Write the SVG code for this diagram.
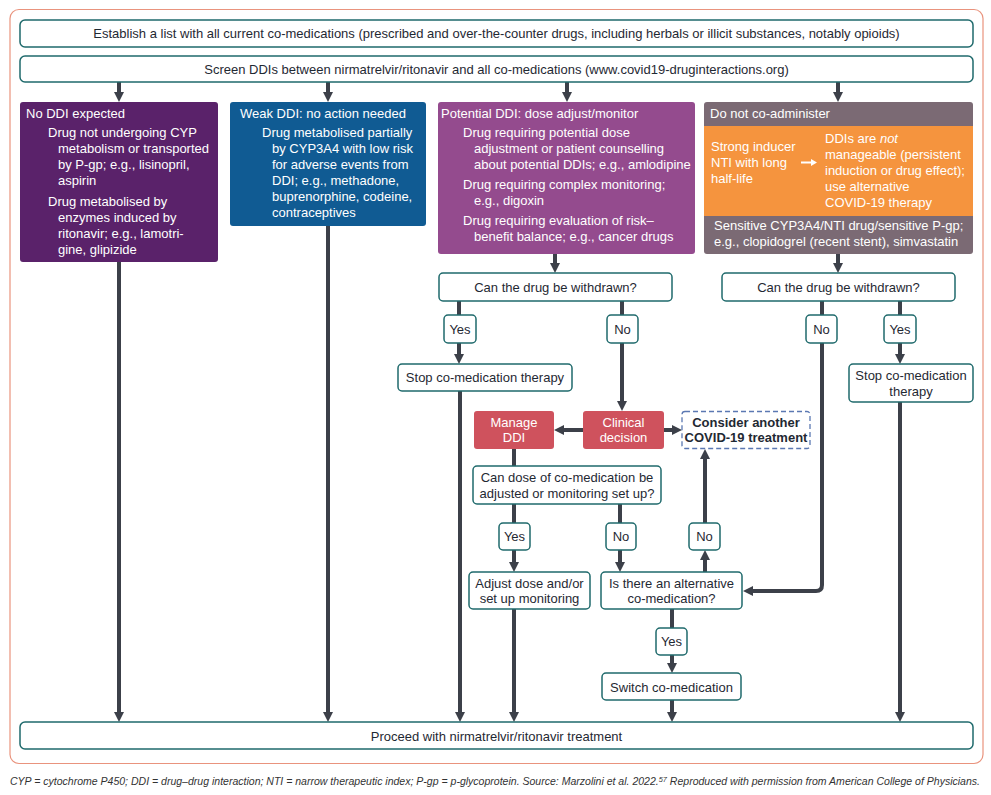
<svg xmlns="http://www.w3.org/2000/svg" width="991" height="795" viewBox="0 0 991 795">
<defs>
<marker id="ah" viewBox="0 0 10 10" refX="1" refY="5" markerWidth="10" markerHeight="10" markerUnits="userSpaceOnUse" orient="auto">
<path d="M0,0 L10,5 L0,10 z" fill="#3c4049"/>
</marker>
<style>
text{font-family:"Liberation Sans",Arial,sans-serif;font-size:13px;fill:#1f2933}
.c{text-anchor:middle}
.w{fill:#ffffff}
.box{fill:#ffffff;stroke:#1f6a6c;stroke-width:1.5}
.lab{fill:#ffffff;stroke:#1f6a6c;stroke-width:1.5}
.red{fill:#cf525d}
.ln{fill:none;stroke:#3c4049;stroke-width:4}
.arr{fill:none;stroke:#3c4049;stroke-width:4;marker-end:url(#ah)}
.foot{font-size:10px;font-style:italic;fill:#333}
</style>
</defs>
<rect width="991" height="795" fill="#ffffff"/>
<rect x="10" y="9.5" width="973" height="754" rx="9" fill="none" stroke="#e9937d" stroke-width="1.2"/>

<g id="connectors">
<path class="arr" d="M119,82 V93"/>
<path class="arr" d="M328,82 V93"/>
<path class="arr" d="M567,82 V93"/>
<path class="arr" d="M838,82 V93"/>
<path class="arr" d="M119,262 V713"/>
<path class="arr" d="M328,226 V713"/>
<path class="arr" d="M555,254 V264"/>
<path class="ln" d="M459,301 V315"/>
<path class="arr" d="M459,343 V355"/>
<path class="ln" d="M622,301 V315"/>
<path class="arr" d="M622,343 V402"/>
<path class="arr" d="M460,391 V713"/>
<path class="arr" d="M583,430 H563"/>
<path class="arr" d="M664,430 H673"/>
<path class="ln" d="M514,449 V466"/>
<path class="ln" d="M514,504 V523"/>
<path class="arr" d="M514,550 V563"/>
<path class="ln" d="M620,504 V523"/>
<path class="arr" d="M620,550 V563"/>
<path class="arr" d="M705,572 V559"/>
<path class="arr" d="M705,523 V458"/>
<path class="arr" d="M514,609 V713"/>
<path class="ln" d="M672,609 V628"/>
<path class="arr" d="M672,655 V664"/>
<path class="arr" d="M672,700 V713"/>
<path class="arr" d="M838,254 V264"/>
<path class="ln" d="M822,301 V315"/>
<path class="arr" d="M822,343 V585 Q822,591 816,591 H752"/>
<path class="ln" d="M900,301 V315"/>
<path class="arr" d="M900,343 V355"/>
<path class="arr" d="M900,402 V713"/>
</g>

<g id="n-establish">
<rect class="box" x="20" y="20" width="953" height="27" rx="5"/>
<text class="c" x="496.5" y="38">Establish a list with all current co-medications (prescribed and over-the-counter drugs, including herbals or illicit substances, notably opioids)</text>
</g>
<g id="n-screen">
<rect class="box" x="20" y="56" width="953" height="26" rx="5"/>
<text class="c" x="496.5" y="73.5">Screen DDIs between nirmatrelvir/ritonavir and all co-medications (www.covid19-druginteractions.org)</text>
</g>

<g id="n-noddi">
<rect x="20" y="102" width="198" height="160" rx="3" fill="#5a226a"/>
<text class="w" x="26" y="118">No DDI expected</text>
<text class="w" x="48" y="137">Drug not undergoing CYP</text>
<text class="w" x="58" y="153">metabolism or transported</text>
<text class="w" x="58" y="169">by P-gp; e.g., lisinopril,</text>
<text class="w" x="58" y="185">aspirin</text>
<text class="w" x="48" y="206">Drug metabolised by</text>
<text class="w" x="58" y="222">enzymes induced by</text>
<text class="w" x="58" y="238">ritonavir; e.g., lamotri-</text>
<text class="w" x="58" y="254">gine, glipizide</text>
</g>

<g id="n-weak">
<rect x="230" y="102" width="196" height="124" rx="3" fill="#105b93"/>
<text class="w" x="240" y="118">Weak DDI: no action needed</text>
<text class="w" x="262" y="137">Drug metabolised partially</text>
<text class="w" x="272" y="153">by CYP3A4 with low risk</text>
<text class="w" x="272" y="169">for adverse events from</text>
<text class="w" x="272" y="185">DDI; e.g., methadone,</text>
<text class="w" x="272" y="201">buprenorphine, codeine,</text>
<text class="w" x="272" y="217">contraceptives</text>
</g>

<g id="n-potential">
<rect x="438" y="102" width="257" height="152" rx="3" fill="#944b8e"/>
<text class="w" x="441" y="118">Potential DDI: dose adjust/monitor</text>
<text class="w" x="463" y="137">Drug requiring potential dose</text>
<text class="w" x="474" y="153">adjustment or patient counselling</text>
<text class="w" x="474" y="169">about potential DDIs; e.g., amlodipine</text>
<text class="w" x="463" y="189">Drug requiring complex monitoring;</text>
<text class="w" x="474" y="205">e.g., digoxin</text>
<text class="w" x="463" y="225">Drug requiring evaluation of risk–</text>
<text class="w" x="474" y="241">benefit balance; e.g., cancer drugs</text>
</g>

<g id="n-donot">
<rect x="704" y="102" width="269" height="152" rx="3" fill="#7b6a74"/>
<rect x="704" y="126" width="269" height="90" fill="#f5943e"/>
<text class="w" x="710" y="118">Do not co-administer</text>
<text class="w" x="711" y="151">Strong inducer</text>
<text class="w" x="711" y="167">NTI with long</text>
<text class="w" x="711" y="183">half-life</text>
<path d="M801,162.5 H812" stroke="#ffffff" stroke-width="2" fill="none"/>
<path d="M811,159 L817,162.5 L811,166 z" fill="#ffffff"/>
<text class="w" x="825" y="143">DDIs are <tspan font-style="italic">not</tspan></text>
<text class="w" x="825" y="159">manageable (persistent</text>
<text class="w" x="825" y="175">induction or drug effect);</text>
<text class="w" x="825" y="191">use alternative</text>
<text class="w" x="825" y="207">COVID-19 therapy</text>
<text class="w" x="714" y="230">Sensitive CYP3A4/NTI drug/sensitive P-gp;</text>
<text class="w" x="714" y="246">e.g., clopidogrel (recent stent), simvastatin</text>
</g>

<g id="n-withdrawn-left">
<rect class="box" x="439" y="273" width="233" height="28" rx="4"/>
<text class="c" x="555.5" y="291.5">Can the drug be withdrawn?</text>
</g>
<g id="n-yes1">
<rect class="lab" x="444" y="315" width="32" height="28" rx="4"/>
<text class="c" x="460" y="333.5">Yes</text>
</g>
<g id="n-no1">
<rect class="lab" x="607" y="315" width="31" height="28" rx="4"/>
<text class="c" x="622.5" y="333.5">No</text>
</g>
<g id="n-stop-left">
<rect class="box" x="398" y="364" width="174" height="27" rx="4"/>
<text class="c" x="485" y="381.5">Stop co-medication therapy</text>
</g>
<g id="n-manage">
<rect class="red" x="474" y="411" width="80" height="38" rx="3"/>
<text class="c w" x="514" y="426.5">Manage</text>
<text class="c w" x="514" y="442">DDI</text>
</g>
<g id="n-clinical">
<rect class="red" x="583" y="411" width="81" height="38" rx="3"/>
<text class="c w" x="623.5" y="426.5">Clinical</text>
<text class="c w" x="623.5" y="442">decision</text>
</g>
<g id="n-consider">
<rect x="682" y="411.5" width="128" height="37" rx="3" fill="#ffffff" stroke="#5b78b2" stroke-width="1.3" stroke-dasharray="5,3"/>
<text class="c" x="746" y="426.5" font-weight="bold">Consider another</text>
<text class="c" x="746" y="441.5" font-weight="bold">COVID-19 treatment</text>
</g>
<g id="n-candose">
<rect class="box" x="473" y="466" width="188" height="38" rx="4"/>
<text class="c" x="567" y="481.5">Can dose of co-medication be</text>
<text class="c" x="567" y="497.5">adjusted or monitoring set up?</text>
</g>
<g id="n-yes2">
<rect class="lab" x="499" y="523" width="31" height="27" rx="4"/>
<text class="c" x="514.5" y="541">Yes</text>
</g>
<g id="n-no2">
<rect class="lab" x="606" y="523" width="30" height="27" rx="4"/>
<text class="c" x="621" y="541">No</text>
</g>
<g id="n-no3">
<rect class="lab" x="689" y="523" width="31" height="27" rx="4"/>
<text class="c" x="704.5" y="541">No</text>
</g>
<g id="n-adjust">
<rect class="box" x="469" y="572" width="121" height="37" rx="4"/>
<text class="c" x="529.5" y="587.5">Adjust dose and/or</text>
<text class="c" x="529.5" y="603">set up monitoring</text>
</g>
<g id="n-alternative">
<rect class="box" x="601" y="572" width="141" height="37" rx="4"/>
<text class="c" x="671.5" y="587.5">Is there an alternative</text>
<text class="c" x="671.5" y="603">co-medication?</text>
</g>
<g id="n-yes3">
<rect class="lab" x="656" y="628" width="31" height="27" rx="4"/>
<text class="c" x="671.5" y="646">Yes</text>
</g>
<g id="n-switch">
<rect class="box" x="602" y="673" width="139" height="27" rx="4"/>
<text class="c" x="671.5" y="691.5">Switch co-medication</text>
</g>
<g id="n-withdrawn-right">
<rect class="box" x="722" y="273" width="233" height="28" rx="4"/>
<text class="c" x="838.5" y="291.5">Can the drug be withdrawn?</text>
</g>
<g id="n-no4">
<rect class="lab" x="806" y="315" width="31" height="28" rx="4"/>
<text class="c" x="821.5" y="333.5">No</text>
</g>
<g id="n-yes4">
<rect class="lab" x="884" y="315" width="32" height="28" rx="4"/>
<text class="c" x="900" y="333.5">Yes</text>
</g>
<g id="n-stop-right">
<rect class="box" x="849" y="364" width="124" height="38" rx="4"/>
<text class="c" x="911" y="379.5">Stop co-medication</text>
<text class="c" x="911" y="395.5">therapy</text>
</g>
<g id="n-proceed">
<rect class="box" x="20" y="722" width="953" height="27" rx="5"/>
<text class="c" x="496.5" y="740.5">Proceed with nirmatrelvir/ritonavir treatment</text>
</g>

<g id="footer">
<text class="foot" x="10" y="785" textLength="970" lengthAdjust="spacingAndGlyphs">CYP = cytochrome P450; DDI = drug–drug interaction; NTI = narrow therapeutic index; P-gp = p-glycoprotein. Source: Marzolini et al. 2022.<tspan font-size="7" baseline-shift="super">57</tspan> Reproduced with permission from American College of Physicians.</text>
</g>
</svg>
